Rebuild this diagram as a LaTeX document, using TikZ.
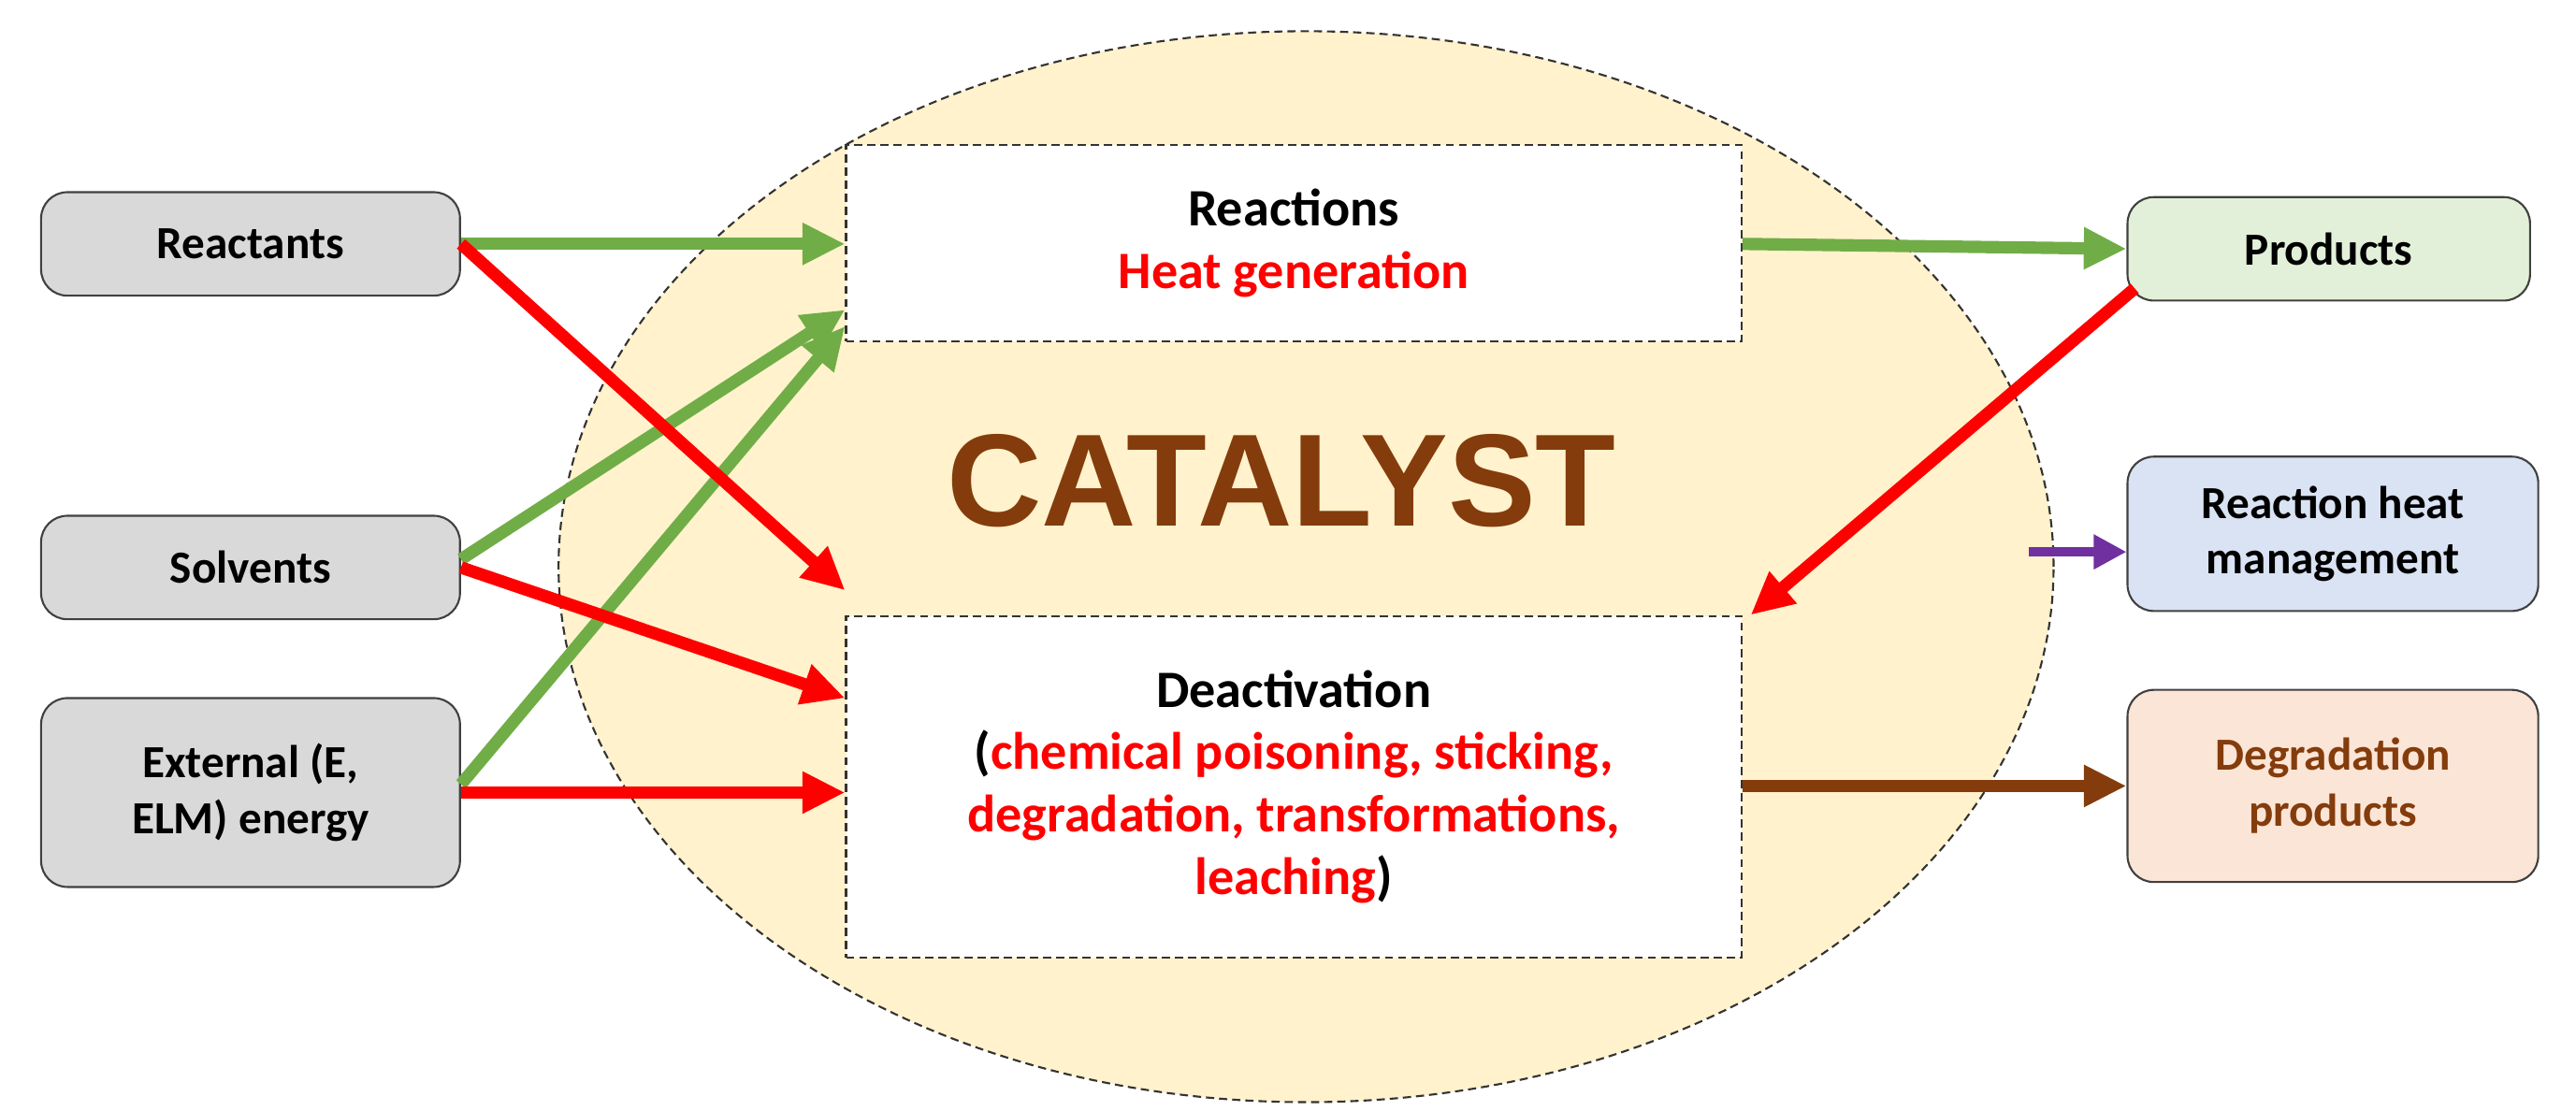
\documentclass[tikz,border=0pt]{standalone}
\usepackage{fontspec}
\setmainfont{Carlito}
\newfontfamily\catfont{Liberation Sans}
\usetikzlibrary{arrows.meta,shapes.geometric,calc}
\definecolor{grn}{HTML}{70AD47}
\definecolor{brn}{HTML}{843C0C}
\definecolor{prp}{HTML}{7030A0}
\definecolor{ellf}{HTML}{FFF2CC}
\definecolor{gryf}{HTML}{D9D9D9}
\definecolor{grnf}{HTML}{E2F0D9}
\definecolor{bluf}{HTML}{DAE3F3}
\definecolor{orgf}{HTML}{FBE5D6}
\begin{document}
\begin{tikzpicture}[x=1pt,y=-1pt,
 src/.style={draw=black!75,line width=1.2pt,rounded corners=16pt,fill=#1,font=\fontsize{28}{34}\selectfont\bfseries,align=center,inner sep=0pt},
 box/.style={draw=black!80,dash pattern=on 5pt off 3pt,line width=1.2pt,fill=white,align=center,inner sep=0pt,font=\fontsize{32}{38}\selectfont\bfseries},
 arr/.style={line width=7.5pt,draw=#1,-{Triangle[length=26pt,width=24pt]}}]
\useasboundingbox (0,0) rectangle (1568,676);
\node[ellipse,draw=black!80,dash pattern=on 5pt off 3pt,line width=1.2pt,fill=ellf,minimum width=910,minimum height=652] (cat) at (795,345) {};
\node[box,minimum width=545,minimum height=120] (rx) at (787.5,148) {Reactions\\\textcolor{red}{Heat generation}};
\node[box,minimum width=545,minimum height=208] (de) at (787.5,479) {Deactivation\\(\textcolor{red}{chemical poisoning, sticking,}\\\textcolor{red}{degradation, transformations,}\\\textcolor{red}{leaching})};
\node[font=\catfont\fontsize{80}{86}\selectfont\bfseries,text=brn] (ct) at (780,293) {CATALYST};
\node[src=gryf,minimum width=255,minimum height=63] (ra) at (152.5,148.5) {Reactants};
\node[src=gryf,minimum width=255,minimum height=63] (so) at (152.5,345.5) {Solvents};
\node[src=gryf,minimum width=255,minimum height=115] (ex) at (152.5,482.5) {External (E,\\ELM) energy};
\node[src=grnf,minimum width=245,minimum height=63] (pr) at (1417.5,151.5) {Products};
\node[src=bluf,minimum width=250,minimum height=94] (hm) at (1420,325) {Reaction heat\\management};
\node[src=orgf,minimum width=250,minimum height=117,text=brn] (dp) at (1420,478.5) {Degradation\\products};
\coordinate (pa) at (1235,336);
\draw[arr=grn] (ra.east) -- (rx.west|-ra.east);
\draw[arr=grn] ($(so.east)+(0,-5)$) -- ($(rx.south west)+(0,-20)$);
\draw[arr=grn] ($(ex.east)+(0,-5)$) -- ($(rx.south west)+(0,-10)$);
\draw[arr=red] (ra.east) -- ($(de.north west)+(0,-15)$);
\draw[arr=red] (so.east) -- ($(de.west)+(0,-54)$);
\draw[arr=red] (ex.east) -- (de.west|-ex.east);
\draw[arr=grn] (rx.east|-ra.east) -- (pr.west);
\draw[arr=red] ($(pr.south west)+(5,-8)$) -- ($(de.north east)+(5,0)$);
\draw[arr=prp,line width=6pt,-{Triangle[length=20pt,width=20pt]}] (pa) -- (pa-|hm.west);
\draw[arr=brn] (de.east|-dp.west) -- (dp.west);
\end{tikzpicture}
\end{document}
